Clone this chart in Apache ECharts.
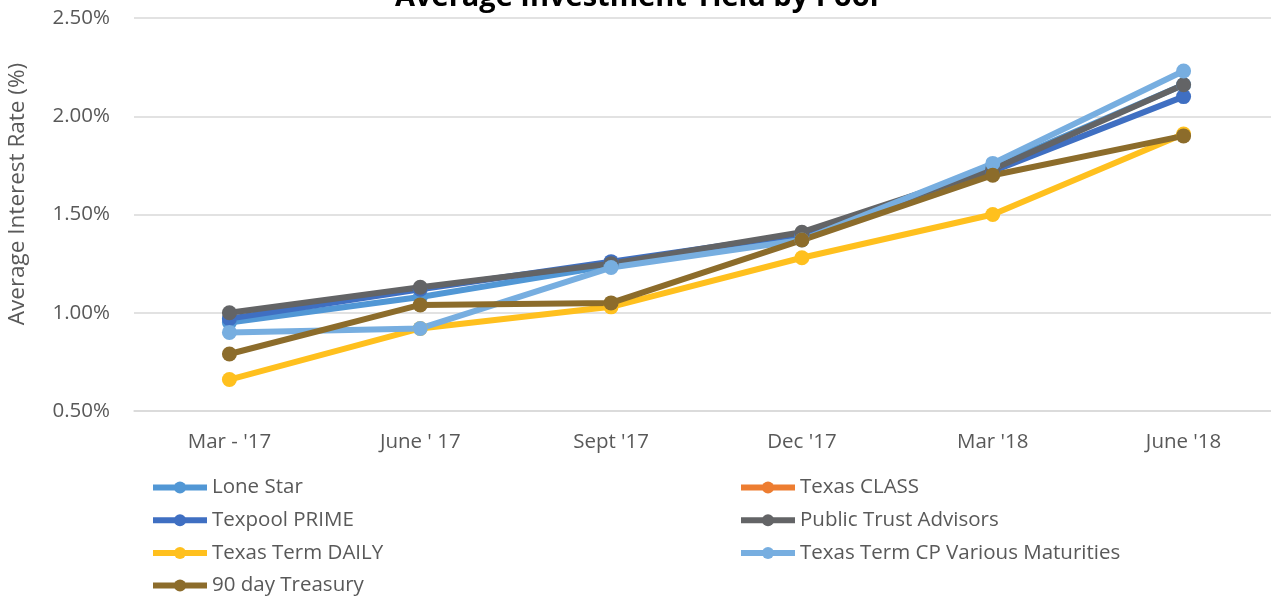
<!DOCTYPE html>
<html>
<head>
<meta charset="utf-8">
<script src="https://cdn.jsdelivr.net/npm/echarts@6/dist/echarts.min.js"></script>
<style>
  html, body { margin: 0; padding: 0; background: #fff; overflow: hidden; }
  #chart { width: 1290px; height: 597px; }
</style>
</head>
<body>
<div id="chart"></div>
<script>
var quarters = ["Mar - '17", "June ' 17", "Sept '17", "Dec '17", "Mar '18", "June '18"];
var yTicks = [0.5, 1.0, 1.5, 2.0, 2.5];

var loneStar = [0.95, 1.08, 1.24, 1.39, 1.74, 2.16];
var texasClass = [null, null, null, null, null, null];
var texpoolPrime = [0.97, 1.12, 1.26, 1.40, 1.72, 2.10];
var publicTrust = [1.00, 1.13, 1.25, 1.41, 1.73, 2.16];
var termDaily = [0.66, 0.92, 1.03, 1.28, 1.50, 1.91];
var termCP = [0.90, 0.92, 1.23, 1.37, 1.76, 2.23];
var treasury90 = [0.79, 1.04, 1.05, 1.37, 1.70, 1.90];

var seriesNames = ['Lone Star', 'Texas CLASS', 'Texpool PRIME', 'Public Trust Advisors',
  'Texas Term DAILY', 'Texas Term CP Various Maturities', '90 day Treasury'];
var seriesData = [loneStar, texasClass, texpoolPrime, publicTrust, termDaily, termCP, treasury90];
var colors = ['#5197D5', '#ED7D31', '#3F6FC2', '#636466', '#FFC01E', '#77AEE0', '#8C6C2B'];

var font = 'Open Sans';
var chart = echarts.init(document.getElementById('chart'));

var series = seriesNames.map(function (name, i) {
  return {
    name: name,
    type: 'line',
    data: seriesData[i],
    symbol: 'circle',
    symbolSize: 15,
    lineStyle: { width: 6, color: colors[i] },
    itemStyle: { color: colors[i] },
    emphasis: { disabled: true }
  };
});

var legendBase = {
  orient: 'vertical',
  itemWidth: 54,
  itemHeight: 15,
  itemGap: 11.7,
  height: 200,
  lineStyle: { width: 6 },
  textStyle: { fontFamily: font, fontSize: 20.5, lineHeight: 20, color: '#595959' },
  selectedMode: false
};

option = {
  animation: false,
  color: colors,
  title: {
    text: 'Average Investment Yield by Pool',
    left: 390,
    top: -22,
    textStyle: { fontFamily: font, fontSize: 29, fontWeight: 'bold', color: '#000' }
  },
  grid: { left: 134, top: 18, width: 1145, height: 393 },
  legend: [
    Object.assign({}, legendBase, { left: 145, top: 472, data: [seriesNames[0], seriesNames[2], seriesNames[4], seriesNames[6]] }),
    Object.assign({}, legendBase, { left: 733, top: 472, data: [seriesNames[1], seriesNames[3], seriesNames[5]] })
  ],
  xAxis: {
    type: 'category',
    data: quarters,
    boundaryGap: true,
    axisTick: { show: false },
    axisLine: { lineStyle: { color: '#d9d9d9', width: 1.5 } },
    axisLabel: { fontFamily: font, fontSize: 20.5, color: '#595959', margin: 21 }
  },
  yAxis: {
    type: 'value',
    min: yTicks[0],
    max: yTicks[yTicks.length - 1],
    interval: 0.5,
    axisLine: { show: false },
    axisTick: { show: false },
    splitLine: { lineStyle: { color: '#d9d9d9', width: 1.5 } },
    axisLabel: {
      fontFamily: font, fontSize: 20.5, color: '#595959', margin: 24,
      formatter: function (v) { return v.toFixed(2) + '%'; }
    }
  },
  graphic: [{
    type: 'text',
    x: 18,
    y: 194,
    rotation: Math.PI / 2,
    style: {
      text: 'Average Interest Rate (%)',
      fontFamily: font,
      fontSize: 22.5,
      fill: '#595959',
      align: 'center',
      verticalAlign: 'middle'
    }
  }],
  series: series
};

chart.setOption(option);
</script>
</body>
</html>
